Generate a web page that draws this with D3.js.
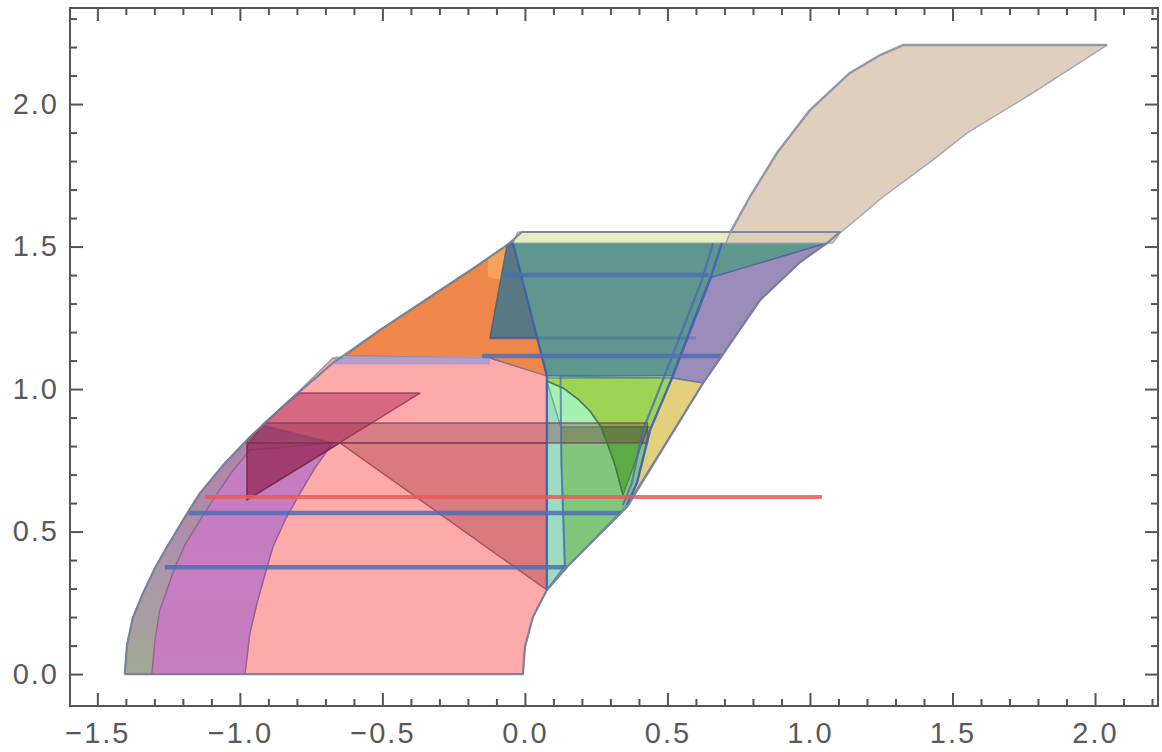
<!DOCTYPE html>
<html><head><meta charset="utf-8">
<script src="https://cdn.jsdelivr.net/npm/d3@7"></script>
<style>html,body{margin:0;padding:0;background:#fff;} svg{display:block}</style>
</head><body><svg id="chart" width="1162" height="752"></svg>
<script>
// ---- axis ticks ----
const xMajor = [-1.5, -1.0, -0.5, 0.0, 0.5, 1.0, 1.5, 2.0];
const xLabels = ["\u22121.5", "\u22121.0", "\u22120.5", "0.0", "0.5", "1.0", "1.5", "2.0"];
const yMajor = [0.0, 0.5, 1.0, 1.5, 2.0];
const yLabels = ["0.0", "0.5", "1.0", "1.5", "2.0"];

// ---- region boundaries (x, y) ----
const envelopeLeft = [[-1.404,0],[-1.396,0.102],[-1.375,0.200],[-1.340,0.284],[-1.298,0.372],[-1.256,0.446],[-1.193,0.551],[-1.140,0.635],[-1.053,0.740],[-0.965,0.832],[-0.825,0.961],[-0.674,1.091],[-0.509,1.207],[-0.333,1.323],[-0.175,1.428],[-0.063,1.505],[-0.042,1.523],[-0.011,1.551]];
const envelopeRight = [[1.105,1.551],[1.060,1.512],[0.965,1.445],[0.825,1.312],[0.625,1.021],[0.358,0.586],[0.147,0.375],[0.077,0.295],[0.028,0.200],[0.000,0.095],[-0.007,0]];
const arcInner = [[-0.674,0.811],[-0.737,0.723],[-0.789,0.635],[-0.842,0.540],[-0.884,0.446],[-0.905,0.375],[-0.937,0.260],[-0.965,0.144],[-0.982,0]];
const arcMid = [[-1.309,0],[-1.298,0.119],[-1.281,0.225],[-1.256,0.295],[-1.228,0.375],[-1.193,0.453],[-1.140,0.540],[-1.088,0.621],[-1.028,0.709],[-0.965,0.786]];

const greyBand = envelopeLeft.slice(0, 11).concat(arcInner);
const pinkRegion = [[-0.982,0],[-0.007,0],[0.000,0.095],[0.028,0.200],[0.077,0.295],[0.077,1.046],[-0.123,1.109],[-0.674,1.109],[-0.825,0.961],[-0.923,0.874]].concat(arcInner.slice(0, 8));
const magentaRegion = arcMid.concat(arcInner);
const crimsonRegion = [[-0.790,0.986],[-0.368,0.986],[-0.975,0.611],[-0.975,0.800],[-0.930,0.860],[-0.860,0.930]];
const crimsonWedge = [[-0.975,0.811],[-0.649,0.811],[-0.975,0.611]];
const darkBand = [[-0.912,0.881],[0.430,0.881],[0.430,0.811],[-0.980,0.811]];
const darkTriangle = [[-0.649,0.811],[0.077,0.811],[0.077,0.295]];
const orangeRegion = [[-0.632,1.116],[-0.509,1.207],[-0.333,1.323],[-0.175,1.428],[-0.063,1.505],[-0.042,1.519],[0.077,1.046],[-0.123,1.109]];
const orangeLight = [[-0.130,1.460],[-0.063,1.505],[-0.078,1.380],[-0.130,1.395]];
const slateRegion = [[-0.063,1.505],[-0.042,1.512],[0.046,1.179],[-0.123,1.179]];
const tealRegion = [[-0.042,1.512],[1.060,1.512],[0.649,1.390],[0.516,1.046],[0.077,1.046]];
const topStrip = [[-0.025,1.551],[1.105,1.551],[1.060,1.512],[-0.042,1.512]];
const purpleRegion = [[0.649,1.390],[1.060,1.512],[0.965,1.445],[0.825,1.312],[0.625,1.021],[0.516,1.039]];
const greenBase = [[0.077,1.046],[0.516,1.039],[0.439,0.856],[0.393,0.670],[0.358,0.593],[0.147,0.375],[0.077,0.295]];
const cyanStrip = [[0.077,1.046],[0.125,1.046],[0.128,0.740],[0.140,0.382],[0.077,0.295]];
const greenBright = [[0.077,1.039],[0.516,1.039],[0.443,0.867],[0.267,0.867],[0.228,0.923],[0.186,0.965],[0.133,1.004],[0.077,1.028]];
const mintRegion = [[0.077,1.028],[0.133,1.004],[0.186,0.965],[0.228,0.923],[0.267,0.867],[0.126,0.867]];
const darkGreen = [[0.267,0.867],[0.432,0.867],[0.344,0.628],[0.316,0.733],[0.291,0.804]];
const yellowSliver = [[0.516,1.039],[0.625,1.021],[0.358,0.593],[0.393,0.670],[0.439,0.856]];
const tanRegion = [[0.705,1.512],[0.719,1.547],[0.789,1.674],[0.884,1.828],[1.000,1.979],[1.140,2.109],[1.246,2.172],[1.326,2.207],[2.042,2.207],[1.782,2.039],[1.551,1.898],[1.432,1.804],[1.256,1.674],[1.105,1.547],[1.080,1.512]];

// edges drawn as strokes
const edgeRight1 = [[0.691,1.512],[0.649,1.382],[0.516,1.039],[0.439,0.856],[0.393,0.670],[0.358,0.593]];
const edgeRight2 = [[0.660,1.512],[0.621,1.382],[0.484,1.032],[0.414,0.856],[0.375,0.670],[0.344,0.593]];
const edgeLeft1 = [[-0.042,1.512],[0.077,1.046],[0.077,0.295]];
const edgeLeft2 = [[0.125,1.046],[0.128,0.740],[0.140,0.382]];
const greenArc = [[0.077,1.028],[0.133,1.004],[0.186,0.965],[0.228,0.923],[0.267,0.867],[0.291,0.804],[0.316,0.733],[0.344,0.628]];
const tanTop = [[0.719,1.547],[0.789,1.674],[0.884,1.828],[1.000,1.979],[1.140,2.109],[1.246,2.172],[1.326,2.207],[2.042,2.207]];

// horizontal level lines: [y, x0, x1]
const redLevel = [0.621, -1.123, 1.042];
const blueLevels = [[0.565, -1.180, 0.337], [0.375, -1.263, 0.147], [1.116, -0.150, 0.691], [1.400, -0.070, 0.645]];
const faintLevels = [[1.179, -0.123, 0.600]];
const lavenderLevel = [1.100, -0.667, -0.123];

// ---- drawing ----
const svg = d3.select("#chart");
const x = d3.scaleLinear().domain([-1.596, 2.221]).range([70, 1158]);
const y = d3.scaleLinear().domain([-0.112, 2.337]).range([706, 8]);
const path = d3.line().x(d => x(d[0])).y(d => y(d[1]));

const defs = svg.append("defs");
defs.append("clipPath").attr("id", "plotClip").append("rect")
  .attr("x", 70).attr("y", 8).attr("width", 1088).attr("height", 698);
const grad = defs.append("linearGradient").attr("id", "greyGrad")
  .attr("gradientUnits", "userSpaceOnUse")
  .attr("x1", 0).attr("x2", 0).attr("y1", y(0)).attr("y2", y(0.95));
grad.append("stop").attr("offset", 0).attr("stop-color", "#a1a994");
grad.append("stop").attr("offset", 0.35).attr("stop-color", "#ab97a9");
grad.append("stop").attr("offset", 1).attr("stop-color", "#b47bab");

const plot = svg.append("g").attr("clip-path", "url(#plotClip)");

function region(pts, fill, opacity, stroke) {
  plot.append("path").attr("d", path(pts) + "Z")
    .attr("fill", fill).attr("fill-opacity", opacity)
    .attr("stroke", stroke || "#5d6a98").attr("stroke-opacity", 0.75)
    .attr("stroke-width", 1.4).attr("stroke-linejoin", "round");
}
function edge(pts, color, width, opacity) {
  plot.append("path").attr("d", path(pts)).attr("fill", "none")
    .attr("stroke", color).attr("stroke-width", width).attr("stroke-opacity", opacity)
    .attr("stroke-linejoin", "round");
}
function level(l, color, width, opacity) {
  edge([[l[1], l[0]], [l[2], l[0]]], color, width, opacity);
}

region(greyBand, "url(#greyGrad)", 1, "#7d7f98");
region(pinkRegion, "#ffaaaa", 1, "#8a7a9a");
region(magentaRegion, "#c77bc2", 0.95, "#8a5a8a");
region(crimsonRegion, "#b02558", 0.5, "#8a3050");
region(crimsonWedge, "#6e1438", 0.32, "#7a2a48");
region(darkTriangle, "#a0323c", 0.4, "#8a4050");
region(orangeRegion, "#f0874a", 1, "#7a6a80");
region(orangeLight, "#f6a85c", 0.8, "none");
region(slateRegion, "#587884", 1, "#3f5a88");
region(tealRegion, "#5f978f", 1, "#3f6a8a");
region(topStrip, "#e5edc3", 1, "#8a9098");
region(purpleRegion, "#9b8cba", 1, "#4a5aa0");
region(greenBase, "#80c77c", 1, "#4a7aa0");
region(cyanStrip, "#9edcc2", 1, "#4a7ab0");
region(greenBright, "#9dd456", 1, "#5a8a60");
region(mintRegion, "#a6f0b4", 1, "#5a9a80");
region(darkGreen, "#5caa46", 1, "#3f7a3a");
region(yellowSliver, "#e3cf7c", 1, "#5a6aa0");
region(darkBand, "#7a1e3a", 0.3, "#7a3a50");
region(tanRegion, "#dccab5", 0.9, "#8c92a6");

edge(greenArc, "#3f7a3a", 1.6, 0.8);
edge(edgeLeft1, "#3f62ae", 2.4, 0.85);
edge(edgeLeft2, "#4a70b8", 2.0, 0.75);
edge(edgeRight1, "#3f5fbf", 2.4, 0.85);
edge(edgeRight2, "#4a68c0", 2.2, 0.8);

level(lavenderLevel, "#a99cd2", 8, 0.85);
faintLevels.forEach(l => level(l, "#3c5aa8", 3, 0.35));
blueLevels.forEach(l => level(l, "#4d6db4", 4.5, 0.85));
level(redLevel, "#e85a5a", 4, 0.85);

// outer outline of the whole shape
edge(envelopeLeft.concat(envelopeRight).concat([[-1.404, 0]]), "#767e9a", 2.2, 0.9);
edge(tanTop, "#8e94a6", 2.4, 0.9);

// ---- frame and ticks ----
const tickColor = "#555";
function styleAxis(g) {
  g.select(".domain").remove();
  g.selectAll(".tick line").attr("stroke", tickColor).attr("stroke-width", 2);
  g.selectAll(".tick text").attr("fill", "#595959")
    .style("font-family", "'Liberation Sans', Arial, sans-serif")
    .style("font-size", "29px").style("letter-spacing", "2px");
}
const xMinor = d3.range(-15, 23).map(i => i / 10).filter(v => Math.abs(Math.round(v * 10)) % 5 !== 0);
const yMinor = d3.range(0, 24).map(i => i / 10).filter(v => Math.round(v * 10) % 5 !== 0);

svg.append("g").attr("transform", "translate(0,706)")
  .call(d3.axisBottom(x).tickValues(xMajor).tickFormat((d, i) => xLabels[i]).tickSize(-13).tickSizeOuter(0).tickPadding(16)).call(styleAxis);
svg.append("g").attr("transform", "translate(0,706)")
  .call(d3.axisBottom(x).tickValues(xMinor).tickFormat("").tickSize(-7).tickSizeOuter(0)).call(styleAxis);
svg.append("g").attr("transform", "translate(0,8)")
  .call(d3.axisTop(x).tickValues(xMajor).tickFormat("").tickSize(-13).tickSizeOuter(0)).call(styleAxis);
svg.append("g").attr("transform", "translate(0,8)")
  .call(d3.axisTop(x).tickValues(xMinor).tickFormat("").tickSize(-7).tickSizeOuter(0)).call(styleAxis);
svg.append("g").attr("transform", "translate(70,0)")
  .call(d3.axisLeft(y).tickValues(yMajor).tickFormat((d, i) => yLabels[i]).tickSize(-13).tickSizeOuter(0).tickPadding(11)).call(styleAxis);
svg.append("g").attr("transform", "translate(70,0)")
  .call(d3.axisLeft(y).tickValues(yMinor).tickFormat("").tickSize(-7).tickSizeOuter(0)).call(styleAxis);
svg.append("g").attr("transform", "translate(1158,0)")
  .call(d3.axisRight(y).tickValues(yMajor).tickFormat("").tickSize(-13).tickSizeOuter(0)).call(styleAxis);
svg.append("g").attr("transform", "translate(1158,0)")
  .call(d3.axisRight(y).tickValues(yMinor).tickFormat("").tickSize(-7).tickSizeOuter(0)).call(styleAxis);

svg.append("rect").attr("x", 70).attr("y", 8).attr("width", 1088).attr("height", 698)
  .attr("fill", "none").attr("stroke", tickColor).attr("stroke-width", 2);
</script>
</body></html>
